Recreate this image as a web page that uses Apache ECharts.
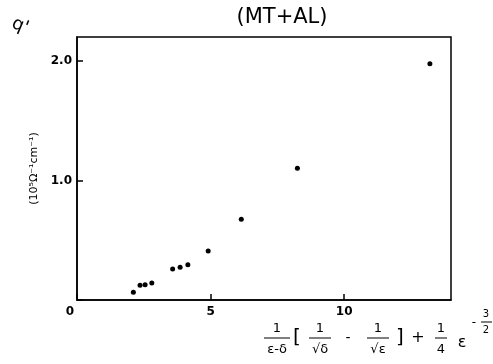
<!DOCTYPE html>
<html>
<head>
<meta charset="utf-8">
<script src="https://cdn.jsdelivr.net/npm/echarts@6/dist/echarts.min.js"></script>
<style>
html, body { margin: 0; padding: 0; background: #fff; }
#chart { width: 493px; height: 364px; }
</style>
</head>
<body>
<div id="chart"></div>
<script>
var xValues = [2.11, 2.36, 2.55, 2.80, 3.58, 3.86, 4.15, 4.91, 6.15, 8.25, 13.21];
var yValues = [0.064, 0.123, 0.128, 0.142, 0.259, 0.273, 0.295, 0.410, 0.675, 1.102, 1.977];
var xTickLabels = ['0', '5', '10'];
var yTickLabels = ['', '1.0', '2.0'];
var title = '(MT+AL)';
var yName = '(10⁵Ω⁻¹cm⁻¹)';
var quantity = "q'";

var points = xValues.map(function (x, i) { return [x, yValues[i]]; });
var font = 'DejaVu Sans';

// x axis name: 1/(ε-δ) [1/√δ - 1/√ε] + 1/4 ε^(-3/2), built from small texts
function txt(s, x, y, size) {
  return {
    type: 'text', x: x, y: y,
    style: { text: s, fontFamily: font, fontSize: size || 13, fill: '#000', textAlign: 'center', textVerticalAlign: 'middle' }
  };
}
function bar(x1, x2, y) {
  return { type: 'line', shape: { x1: x1, y1: y, x2: x2, y2: y }, style: { stroke: '#000', lineWidth: 1 } };
}
function frac(num, den, cx, w) {
  return [txt(num, cx, 329), bar(cx - w / 2, cx + w / 2, 338), txt(den, cx, 350)];
}
var formula = [].concat(
  frac('1', 'ε-δ', 277, 26),
  [txt('[', 297, 338, 20)],
  frac('1', '√δ', 320, 22),
  [txt('-', 348, 338, 14)],
  frac('1', '√ε', 378, 22),
  [txt(']', 400, 338, 20)],
  [txt('+', 418, 338, 16)],
  frac('1', '4', 441, 12),
  [txt('ε', 462, 343, 16)],
  [txt('-', 474, 323, 12)],
  [txt('3', 486, 314, 10)],
  [bar(481, 492, 322)],
  [txt('2', 486, 330, 10)]
);

var chart = echarts.init(document.getElementById('chart'));
chart.setOption({
  backgroundColor: '#fff',
  animation: false,
  title: {
    text: title,
    left: 277, top: 2,
    textAlign: 'center',
    textStyle: { fontFamily: font, fontSize: 21, fontWeight: 'normal', color: '#000' }
  },
  grid: {
    left: 77, right: 42, top: 37, bottom: 64,
    show: true, borderColor: '#000', borderWidth: 1.5, backgroundColor: 'transparent'
  },
  xAxis: {
    type: 'value', min: 0, max: 14, interval: 5,
    axisLine: { show: true, lineStyle: { color: '#000', width: 1.5 } },
    axisTick: { show: true, inside: true, length: 6, lineStyle: { color: '#000', width: 1.5 } },
    axisLabel: {
      margin: 6, showMaxLabel: false,
      fontFamily: font, fontSize: 12, fontWeight: 'bold', color: '#000',
      formatter: function (v) {
        var s = xTickLabels[Math.round(v / 5)] || '';
        return v === 0 ? '{z|' + s + '}' : s;
      },
      rich: { z: { padding: [0, 14, 0, 0], fontFamily: font, fontSize: 12, fontWeight: 'bold', color: '#000' } }
    },
    splitLine: { show: false }
  },
  yAxis: {
    type: 'value', min: 0, max: 2.2, interval: 1,
    name: yName, nameLocation: 'middle', nameGap: 36, nameRotate: 90,
    nameTextStyle: { fontFamily: font, fontSize: 11, color: '#000' },
    axisLine: { show: true, lineStyle: { color: '#000', width: 1.5 } },
    axisTick: { show: true, inside: true, length: 6, lineStyle: { color: '#000', width: 1.5 } },
    axisLabel: {
      margin: 5, showMaxLabel: false, fontFamily: font, fontSize: 12, fontWeight: 'bold', color: '#000',
      formatter: function (v) { return yTickLabels[Math.round(v)] || ''; }
    },
    splitLine: { show: false }
  },
  graphic: [
    {
      type: 'text', x: 20, y: 26, rotation: -0.4,
      style: { text: quantity, fontFamily: font, fontSize: 18, fill: '#000', textAlign: 'center', textVerticalAlign: 'middle' }
    }
  ].concat(formula),
  series: [{
    type: 'scatter',
    data: points,
    symbol: 'circle',
    symbolSize: 5,
    itemStyle: { color: '#000', opacity: 1 }
  }]
});
</script>
</body>
</html>
